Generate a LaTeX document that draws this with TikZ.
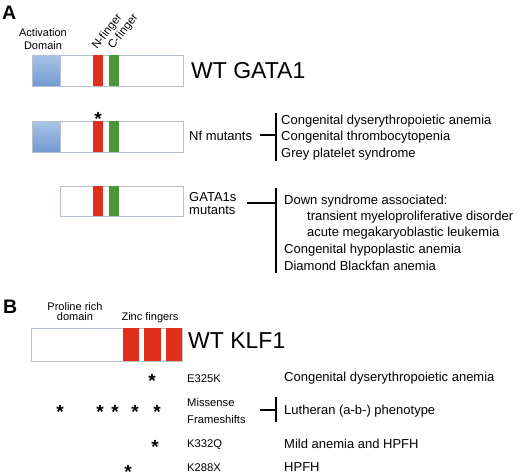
\documentclass[tikz,border=0pt]{standalone}
\usepackage{fontspec}
\setmainfont{Liberation Sans}
\usetikzlibrary{positioning}
\definecolor{boxline}{HTML}{B4C0CE}
\definecolor{adtop}{HTML}{A9C4E8}
\definecolor{adbot}{HTML}{7199D0}
\definecolor{zred}{HTML}{E0301C}
\definecolor{zgreen}{HTML}{4A9636}
\newcommand{\fs}[1]{\fontsize{#1}{#1}\selectfont}
\tikzset{
  pbox/.style={draw=boxline, line width=0.9pt, fill=white, inner sep=0pt, outer sep=0pt, anchor=north west},
  adom/.style={inner sep=0pt, outer sep=0pt, anchor=north west, top color=adtop, bottom color=adbot, draw=boxline, line width=0.5pt},
  rbar/.style={fill=zred, inner sep=0pt, outer sep=0pt, anchor=north west},
  gbar/.style={fill=zgreen, inner sep=0pt, outer sep=0pt, anchor=north west},
  lbl/.style={inner sep=0pt, anchor=base west, font=\fs{13}},
  mlbl/.style={inner sep=0pt, anchor=base west, font=\fs{11.2}},
  small/.style={inner sep=0pt, anchor=base, font=\fs{11}},
  fing/.style={inner sep=0pt, anchor=base west, rotate=52, font=\fs{11.5}},
  big/.style={inner sep=0pt, anchor=base west, font=\fs{23}},
  panel/.style={inner sep=0pt, anchor=base west, font=\fs{19.5}\bfseries},
  star/.style={inner sep=0pt, anchor=base, font=\fs{19}\bfseries},
  brk/.style={line width=1.5pt, black},
}
\begin{document}
\begin{tikzpicture}[x=1pt,y=-1pt]
\fill[white] (0,0) rectangle (520,475);
\useasboundingbox (0,0) rectangle (520,475);

% ---------- Panel A ----------
\node[panel] (A) at (2,19.5) {A};
\node[small] (act1) at (43,36) {Activation};
\node[small] (act2) at (43,49) {Domain};
\node[fing] (nf) at (97,50) {N-finger};
\node[fing] (cf) at (113,50) {C-finger};

% WT GATA1
\node[pbox, minimum width=151, minimum height=31] (g1) at (32,55) {};
\node[adom, minimum width=28, minimum height=31] (g1a) at (32,55) {};
\node[rbar, minimum width=10, minimum height=31] (g1n) at (93,55) {};
\node[gbar, minimum width=10, minimum height=31] (g1c) at (109,55) {};
\node[big] (wtg) at (191,78) {WT GATA1};

% Nf mutants
\node[pbox, minimum width=151, minimum height=31] (g2) at (32,121) {};
\node[adom, minimum width=28, minimum height=31] (g2a) at (32,121) {};
\node[rbar, minimum width=10, minimum height=31] (g2n) at (93,121) {};
\node[gbar, minimum width=10, minimum height=31] (g2c) at (109,121) {};
\node[star] (s0) at (98,125) {*};
\node[lbl] (nfm) at (189,140) {Nf mutants};
\coordinate (b1t) at (276,113);
\coordinate (b1b) at (276,161);
\coordinate (b1m) at (276,135);
\coordinate (b1s) at (260,135);
\draw[brk] (b1t) -- (b1b);
\draw[brk] (b1s) -- (b1m);
\node[lbl] (p1) at (281,124) {Congenital dyserythropoietic anemia};
\node[lbl] (p2) at (281,140.5) {Congenital thrombocytopenia};
\node[lbl] (p3) at (281,157) {Grey platelet syndrome};

% GATA1s mutants
\node[pbox, minimum width=123, minimum height=30] (g3) at (60,186) {};
\node[rbar, minimum width=10, minimum height=30] (g3n) at (93,186) {};
\node[gbar, minimum width=10, minimum height=30] (g3c) at (109,186) {};
\node[lbl] (gs1) at (189,201) {GATA1s};
\node[lbl] (gs2) at (189,214) {mutants};
\coordinate (b2t) at (276,188);
\coordinate (b2b) at (276,273);
\coordinate (b2m) at (276,203);
\coordinate (b2s) at (247,203);
\draw[brk] (b2t) -- (b2b);
\draw[brk] (b2s) -- (b2m);
\node[lbl] (q1) at (284,204) {Down syndrome associated:};
\node[lbl] (q2) at (307,220) {transient myeloproliferative disorder};
\node[lbl] (q3) at (307,236) {acute megakaryoblastic leukemia};
\node[lbl] (q4) at (284,253) {Congenital hypoplastic anemia};
\node[lbl] (q5) at (284,270) {Diamond Blackfan anemia};

% ---------- Panel B ----------
\node[panel] (B) at (3,313) {B};
\node[small] (pr1) at (75,310) {Proline rich};
\node[small] (pr2) at (75,320) {domain};
\node[small] (zf) at (150,320) {Zinc fingers};

\node[pbox, minimum width=151, minimum height=33] (k1) at (31,328) {};
\node[rbar, minimum width=16, minimum height=33] (z1) at (123,328) {};
\node[rbar, minimum width=17, minimum height=33] (z2) at (144,328) {};
\node[rbar, minimum width=16, minimum height=33] (z3) at (166,328) {};
\node[big] (wtk) at (188,348) {WT KLF1};

% mutations
\node[star] (e1) at (152,387) {*};
\node[mlbl] (e325k) at (187,382) {E325K};
\node[lbl] (r1) at (284,381) {Congenital dyserythropoietic anemia};

\node[star] (m1) at (60,418) {*};
\node[star] (m2) at (100,418) {*};
\node[star] (m3) at (115,418) {*};
\node[star] (m4) at (135,418) {*};
\node[star] (m5) at (157,418) {*};
\node[mlbl] (mis) at (187,406) {Missense};
\node[mlbl] (frm) at (187,423) {Frameshifts};
\coordinate (b3t) at (276,397);
\coordinate (b3b) at (276,422);
\coordinate (b3m) at (276,410);
\coordinate (b3s) at (260,410);
\draw[brk] (b3t) -- (b3b);
\draw[brk] (b3s) -- (b3m);
\node[lbl] (r2) at (284,414) {Lutheran (a-b-) phenotype};

\node[star] (k2) at (155,453) {*};
\node[mlbl] (k332q) at (187,447) {K332Q};
\node[lbl] (r3) at (284,448) {Mild anemia and HPFH};

\node[star] (k3) at (128,478) {*};
\node[mlbl] (k288x) at (187,471) {K288X};
\node[lbl] (r4) at (284,471) {HPFH};
\end{tikzpicture}
\end{document}
